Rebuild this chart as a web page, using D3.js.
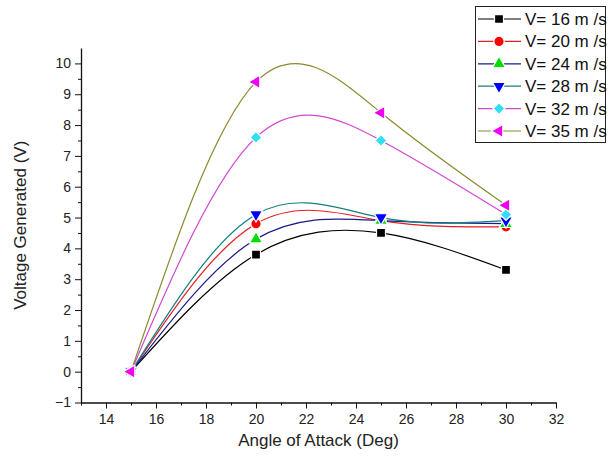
<!DOCTYPE html>
<html>
<head>
<meta charset="utf-8">
<script src="https://cdn.jsdelivr.net/npm/d3@7/dist/d3.min.js"></script>
<style>
  body { margin: 0; background: #fff; }
  svg { display: block; font-family: "Liberation Sans", Arial, sans-serif; }
  .axis path, .axis line { stroke: #111; }
  .axis text { fill: #222; font-size: 14px; }
</style>
</head>
<body>
<div id="chart"></div>
<script>
// angle of attack values
var angles = [15, 20, 25, 30];

// series names + voltage readings (V) for each wind speed
var seriesNames = ["V= 16 m /s", "V= 20 m /s", "V= 24 m /s", "V= 28 m /s", "V= 32 m /s", "V= 35 m /s"];
var v16 = [0, 3.8, 4.5, 3.3];
var v20 = [0, 4.8, 4.9, 4.7];
var v24 = [0, 4.3, 4.9, 4.8];
var v28 = [0, 5.1, 5.0, 4.9];
var v32 = [0, 7.6, 7.5, 5.1];
var v35 = [0, 9.4, 8.4, 5.4];

var xTicks = [14, 16, 18, 20, 22, 24, 26, 28, 30, 32];
var yTicks = [-1, 0, 1, 2, 3, 4, 5, 6, 7, 8, 9, 10];

// styling per series
var lineColors = ["#000000", "#e02020", "#1a1a8a", "#108080", "#d048d0", "#8a8a30"];
var markColors = ["#000000", "#ff0000", "#00e000", "#0000ff", "#30e0f0", "#f000f0"];
var shapes = ["square", "circle", "up", "down", "diamond", "left"];

var width = 608, height = 459;
var margin = {top: 48, right: 52, bottom: 56.5, left: 81};

var svg = d3.select("#chart").append("svg")
    .attr("width", width)
    .attr("height", height);

var x = d3.scaleLinear().domain([13, 32]).range([margin.left, width - margin.right]);
var y = d3.scaleLinear().domain([-1, 10.5]).range([height - margin.bottom, margin.top]);

// minor ticks first, then major
var xMinor = d3.range(13, 32, 1).filter(function(d){ return d % 2 == 1; });
var yMinor = d3.range(-0.5, 10.5, 1);

svg.append("g").attr("class", "axis")
    .attr("transform", "translate(0," + y(-1) + ")")
    .call(d3.axisBottom(x).tickValues(xMinor).tickSize(3).tickFormat(""))
    .select(".domain").remove();
svg.append("g").attr("class", "axis")
    .attr("transform", "translate(" + x(13) + ",0)")
    .call(d3.axisLeft(y).tickValues(yMinor).tickSize(3).tickFormat(""))
    .select(".domain").remove();

var xAxis = svg.append("g").attr("class", "axis")
    .attr("transform", "translate(0," + y(-1) + ")")
    .call(d3.axisBottom(x).tickValues(xTicks).tickSize(6).tickSizeOuter(0).tickPadding(6));
var yAxis = svg.append("g").attr("class", "axis")
    .attr("transform", "translate(" + x(13) + ",0)")
    .call(d3.axisLeft(y).tickValues(yTicks).tickSize(6).tickSizeOuter(0).tickPadding(4));
svg.selectAll(".axis .domain").attr("stroke-width", 1.3);

// axis titles
svg.append("text")
    .attr("x", (x(13) + x(32)) / 2)
    .attr("y", 446)
    .attr("text-anchor", "middle")
    .attr("font-size", 17)
    .attr("fill", "#222")
    .text("Angle of Attack (Deg)");

svg.append("text")
    .attr("transform", "translate(26," + ((y(-1) + y(10.5)) / 2) + ") rotate(-90)")
    .attr("text-anchor", "middle")
    .attr("font-size", 17)
    .attr("fill", "#222")
    .text("Voltage Generated (V)");

var allSeries = [v16, v20, v24, v28, v32, v35].map(function(vals, i){
    return {
        name: seriesNames[i],
        points: vals.map(function(v, j){ return {a: angles[j], v: v}; }),
        line: lineColors[i],
        mark: markColors[i],
        shape: shapes[i]
    };
});

var line = d3.line()
    .x(function(d){ return x(d.a); })
    .y(function(d){ return y(d.v); })
    .curve(d3.curveNatural);

svg.append("g").selectAll("path")
    .data(allSeries)
    .enter()
    .append("path")
    .attr("d", function(d){ return line(d.points); })
    .attr("fill", "none")
    .attr("stroke", function(d){ return d.line; })
    .attr("stroke-width", 1.2);

// marker drawing helper
function symbolFor(shape){
    if (shape == "square") return {type: d3.symbolSquare, size: 80, rot: 0};
    if (shape == "circle") return {type: d3.symbolCircle, size: 85, rot: 0};
    if (shape == "up") return {type: d3.symbolTriangle, size: 75, rot: 0};
    if (shape == "down") return {type: d3.symbolTriangle, size: 75, rot: 180};
    if (shape == "diamond") return {type: d3.symbolSquare, size: 70, rot: 45};
    if (shape == "left") return {type: d3.symbolTriangle, size: 75, rot: -90};
}

function drawMarker(g, s, cx, cy){
    var sym = symbolFor(s.shape);
    g.append("path")
        .attr("d", d3.symbol().type(sym.type).size(sym.size)())
        .attr("transform", "translate(" + cx + "," + cy + ") rotate(" + sym.rot + ")")
        .attr("fill", s.mark)
        .attr("stroke", "#fff")
        .attr("stroke-width", 1.2);
}

var markG = svg.append("g");
allSeries.forEach(function(s){
    s.points.forEach(function(p){
        drawMarker(markG, s, x(p.a), y(p.v));
    });
});

// legend
var legend = svg.append("g");
legend.append("rect")
    .attr("x", 475.5).attr("y", 6.5)
    .attr("width", 130).attr("height", 136)
    .attr("fill", "#fff")
    .attr("stroke", "#222")
    .attr("stroke-width", 1);

allSeries.forEach(function(s, i){
    var ly = 19 + i * 22.4;
    legend.append("line")
        .attr("x1", 478).attr("x2", 521)
        .attr("y1", ly).attr("y2", ly)
        .attr("stroke", s.line)
        .attr("stroke-width", 1.2);
    drawMarker(legend, s, 499, ly);
    legend.append("text")
        .attr("x", 525)
        .attr("y", ly + 6)
        .attr("font-size", 17)
        .attr("fill", "#111")
        .text(s.name);
});
</script>
</body>
</html>
